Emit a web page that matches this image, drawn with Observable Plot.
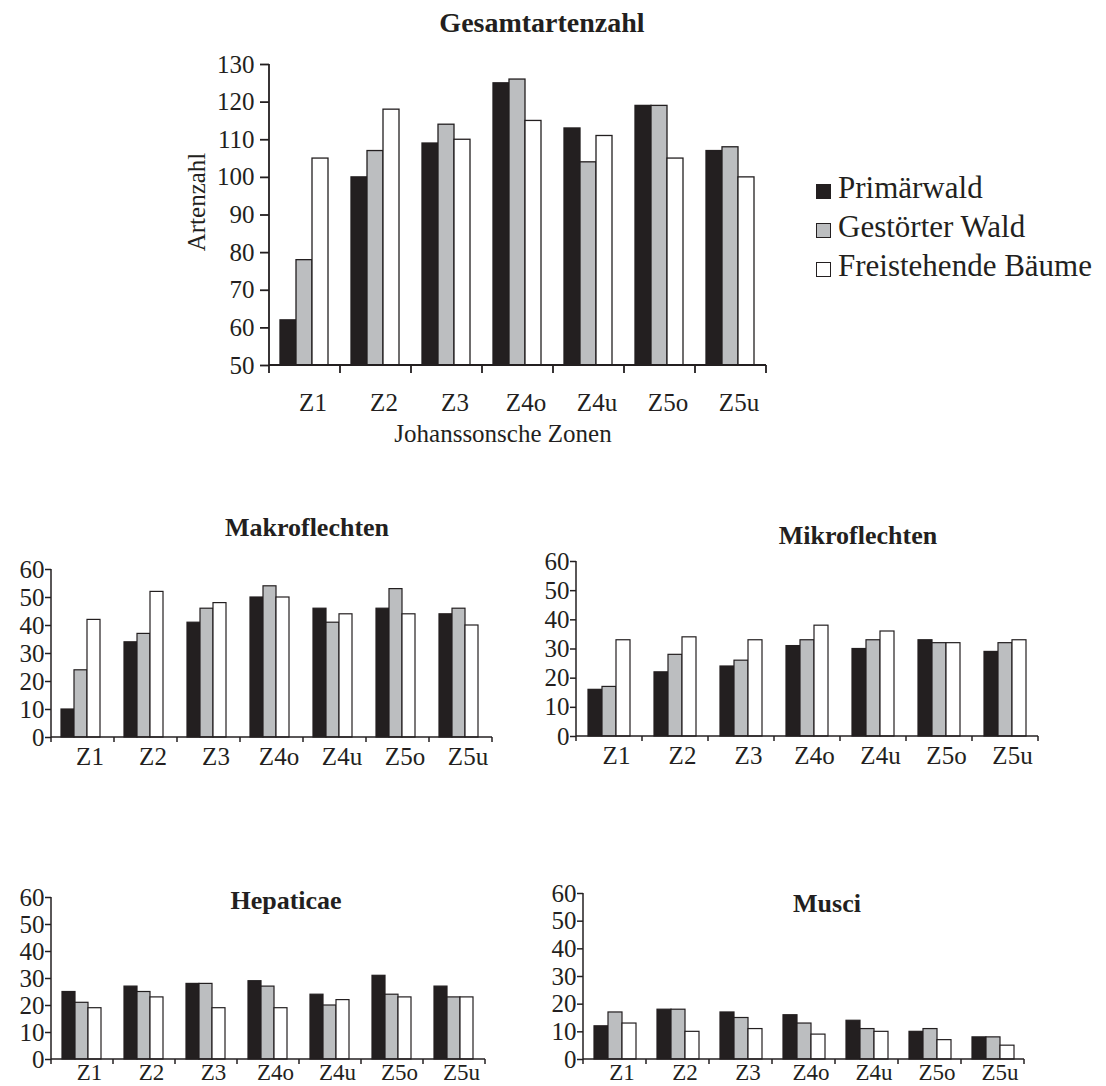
<!DOCTYPE html>
<html><head><meta charset="utf-8">
<script src="https://cdn.jsdelivr.net/npm/d3@7"></script>
<script src="https://cdn.jsdelivr.net/npm/@observablehq/plot@0.6"></script>
<style>
body{margin:0;background:#fff;}
#root{position:relative;width:1106px;height:1086px;font-family:"Liberation Serif","Times New Roman",serif;color:#231f20;overflow:hidden;}
.box{position:absolute;}
.box svg{display:block;overflow:visible;}
.title{position:absolute;font-weight:bold;white-space:nowrap;transform:translateX(-50%);line-height:1;}
.txt{position:absolute;white-space:nowrap;line-height:1;}
.leg{position:absolute;left:816px;font-size:31px;line-height:1;white-space:nowrap;}
.leg .sw{position:absolute;left:0;width:15px;height:15px;border:1.3px solid #231f20;box-sizing:border-box;}
.leg .lb{position:absolute;left:22px;}
</style></head><body><div id="root"></div>
<script>
// ---- data ----
const zones = ["Z1","Z2","Z3","Z4o","Z4u","Z5o","Z5u"];
const seriesNames = ["Primärwald","Gestörter Wald","Freistehende Bäume"];
const seriesColors = ["#231f20","#bcbec0","#ffffff"];

const gesamtPrimaer  = [62,100,109,125,113,119,107];
const gesamtGestoert = [78,107,114,126,104,119,108];
const gesamtFrei     = [105,118,110,115,111,105,100];

const makroPrimaer  = [10,34,41,50,46,46,44];
const makroGestoert = [24,37,46,54,41,53,46];
const makroFrei     = [42,52,48,50,44,44,40];

const mikroPrimaer  = [16,22,24,31,30,33,29];
const mikroGestoert = [17,28,26,33,33,32,32];
const mikroFrei     = [33,34,33,38,36,32,33];

const hepPrimaer  = [25,27,28,29,24,31,27];
const hepGestoert = [21,25,28,27,20,24,23];
const hepFrei     = [19,23,19,19,22,23,23];

const musciPrimaer  = [12,18,17,16,14,10,8];
const musciGestoert = [17,18,15,13,11,11,8];
const musciFrei     = [13,10,11,9,10,7,5];

const mainTicks  = [50,60,70,80,90,100,110,120,130];
const smallTicks = [0,10,20,30,40,50,60];

const titles = {main:"Gesamtartenzahl", makro:"Makroflechten", mikro:"Mikroflechten", hep:"Hepaticae", musci:"Musci"};
const yLabel = "Artenzahl";
const xLabel = "Johanssonsche Zonen";

// ---- helpers ----
const root = document.getElementById("root");
function rowsOf(arrs){
  return zones.flatMap((z,i)=>seriesNames.map((s,j)=>({zone:z, series:s, value:arrs[j][i]})));
}
function chart(cfg){
  const rows = rowsOf(cfg.arrs);
  const yDomain = [cfg.ticks[0], cfg.ticks[cfg.ticks.length-1]];
  const plot = Plot.plot({
    width: cfg.width, height: cfg.height,
    marginLeft: cfg.ml, marginRight: cfg.mr, marginTop: cfg.mt, marginBottom: cfg.mb,
    style: {fontSize: cfg.fs + "px", fontFamily: "'Liberation Serif','Times New Roman',serif", color: "#231f20", background: "transparent", overflow: "visible"},
    fx: {domain: zones, padding: 0},
    x: {domain: seriesNames, paddingInner: 0, paddingOuter: cfg.po, align: cfg.align, axis: null},
    y: {domain: yDomain},
    color: {domain: seriesNames, range: seriesColors},
    marks: [
      Plot.barY(rows, {fx: "zone", x: "series", y1: () => yDomain[0], y2: "value", fill: "series", stroke: "#231f20", strokeWidth: cfg.bsw}),
      Plot.axisY({ticks: cfg.ticks, tickSize: cfg.yts, tickPadding: cfg.ytp, label: null, strokeWidth: cfg.asw}),
      Plot.axisFx({anchor: "bottom", tickSize: 0, tickPadding: cfg.xtp, dx: cfg.xdx, label: null, fontSize: cfg.xfs || cfg.fs})
    ]
  });
  const fxS = plot.scale("fx"), yS = plot.scale("y");
  const xa = fxS.apply(zones[0]);
  const xb = fxS.apply(zones[zones.length-1]) + fxS.bandwidth;
  const y0 = yS.apply(yDomain[0]), y1 = yS.apply(yDomain[1]);
  const g = d3.select(plot).append("g").attr("stroke", "#231f20").attr("stroke-width", cfg.asw).attr("fill", "none");
  g.append("line").attr("x1", xa).attr("x2", xa).attr("y1", y1).attr("y2", y0);
  g.append("line").attr("x1", xa).attr("x2", xb).attr("y1", y0).attr("y2", y0);
  const bounds = zones.map(z => fxS.apply(z)).concat([xb]);
  for (const bx of bounds) g.append("line").attr("x1", bx).attr("x2", bx).attr("y1", y0).attr("y2", y0 + cfg.xts);
  const box = document.createElement("div");
  box.className = "box";
  box.style.left = cfg.left + "px"; box.style.top = cfg.top + "px";
  box.appendChild(plot);
  root.appendChild(box);
}
function title(text, cx, baseline, fs){
  const d = document.createElement("div");
  d.className = "title"; d.textContent = text;
  d.style.fontSize = fs + "px"; d.style.left = cx + "px"; d.style.top = (baseline - 0.8375*fs) + "px";
  root.appendChild(d);
}

// ---- main chart ----
chart({arrs:[gesamtPrimaer,gesamtGestoert,gesamtFrei], ticks: mainTicks, left:0, top:0, width:800, height:460,
  ml:267, mr:33, mt:64, mb:95, fs:25, po:0.65, align:0.48, bsw:1.3, asw:1.8, yts:9, ytp:6, xtp:28, xdx:8, xts:8});
title(titles.main, 542, 32, 28);
{
  const d = document.createElement("div"); d.className = "txt"; d.textContent = yLabel;
  d.style.fontSize = "25px"; d.style.left = "196px"; d.style.top = "202px";
  d.style.transform = "translate(-50%,-50%) rotate(-90deg)";
  root.appendChild(d);
  const e = document.createElement("div"); e.className = "txt"; e.textContent = xLabel;
  e.style.fontSize = "25px"; e.style.left = "503px"; e.style.top = (442 - 0.8375*25) + "px";
  e.style.transform = "translateX(-50%)";
  root.appendChild(e);
}
// legend
{
  const base = [198, 237, 276];
  seriesNames.forEach((s, j) => {
    const row = document.createElement("div"); row.className = "leg";
    row.style.top = (base[j] - 0.8375*31) + "px";
    const sw = document.createElement("div"); sw.className = "sw"; sw.style.background = seriesColors[j];
    sw.style.top = (0.8375*31 - 14) + "px";
    const lb = document.createElement("div"); lb.className = "lb"; lb.textContent = s;
    row.appendChild(sw); row.appendChild(lb); root.appendChild(row);
  });
}

// ---- small charts ----
const smallCommon = {ticks: smallTicks, fs:25, bsw:1.2, asw:1.5, yts:6, ytp:1, xtp:10, xdx:7, xts:5};
chart({...smallCommon, arrs:[makroPrimaer,makroGestoert,makroFrei], left:0, top:540, width:520, height:250,
  ml:49, mr:27, mt:29, mb:53, po:0.76, align:0.4});
title(titles.makro, 307, 537, 26);
chart({...smallCommon, arrs:[mikroPrimaer,mikroGestoert,mikroFrei], left:530, top:540, width:560, height:250,
  ml:44, mr:51, mt:21, mb:54, po:0.71, align:0.5});
title(titles.mikro, 858, 545, 26);
chart({...smallCommon, arrs:[hepPrimaer,hepGestoert,hepFrei], left:0, top:860, width:520, height:226,
  ml:49, mr:33, mt:37, mb:27, po:0.72, align:0.47, xfs:23, xtp:4});
title(titles.hep, 286, 910, 26);
chart({...smallCommon, arrs:[musciPrimaer,musciGestoert,musciFrei], left:530, top:860, width:560, height:226,
  ml:52, mr:65, mt:33, mb:27, po:0.72, align:0.53, xfs:23, xtp:4});
title(titles.musci, 827, 913, 26);
</script></body></html>
